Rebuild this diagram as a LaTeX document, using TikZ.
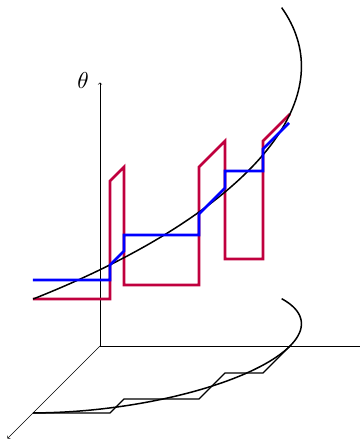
\documentclass[tikz,border=0pt]{standalone}
\definecolor{jumpred}{RGB}{192,0,62}

\begin{document}
\begin{tikzpicture}[x={(1pt,0pt)}, y={(-1pt,-1pt)}, z={(0pt,1pt)},
    axis/.style={line width=0.6pt},
    curve/.style={line width=1.5pt, black},
    stair/.style={line width=2.7pt}]
    \useasboundingbox (-100pt,-93pt) rectangle (260pt,346pt);

    % --- Axes ---
    \coordinate (o) at (0,0,0);
    \coordinate (xend) at (260,0,0);
    \coordinate (yend) at (0,92.5,0);
    \coordinate (zend) at (0,0,263.5);
    \draw[axis] (o) -- (xend);
    \draw[axis, ->] (o) -- (yend);
    \draw[axis, ->] (o) -- (zend);
    \node[scale=2.3] (thlabel) at ([xshift=-17pt, yshift=2pt]zend) {$\theta$};

    % --- Projection on the floor ---
    \draw[curve] plot[domain=-90:45, samples=80, variable=\t]
        ({190*cos(\t)}, {-66.9*sin(\t)}, 0);
    \draw[line width=1.3pt] (0,67,0) -- (77,67,0) -- (77,53,0) -- (152,53,0)
        -- (152,27,0) -- (190,27,0) -- (190,0,0);

    % --- Switching path (red) ---
    \draw[stair, jumpred] (0,67,114) -- (77,67,114) -- (77,67,232) -- (77,53,232)
        -- (77,53,114) -- (152,53,114) -- (152,53,232) -- (152,27,232)
        -- (152,27,114) -- (190,27,114) -- (190,27,232) -- (190,0,232);

    % --- Lifted curve ---
    \draw[curve] plot[domain=-90:45, samples=80, variable=\t]
        ({190*cos(\t)}, {-66.9*sin(\t)}, {232+1.3125*\t});

    % --- Staircase path (blue) ---
    \draw[stair, blue] (0,67,133) -- (77,67,133) -- (77,67,148) -- (77,53,148)
        -- (77,53,164) -- (152,53,164) -- (152,53,185) -- (152,27,185)
        -- (152,27,202) -- (190,27,202) -- (190,27,224) -- (190,1,224);
\end{tikzpicture}
\end{document}
